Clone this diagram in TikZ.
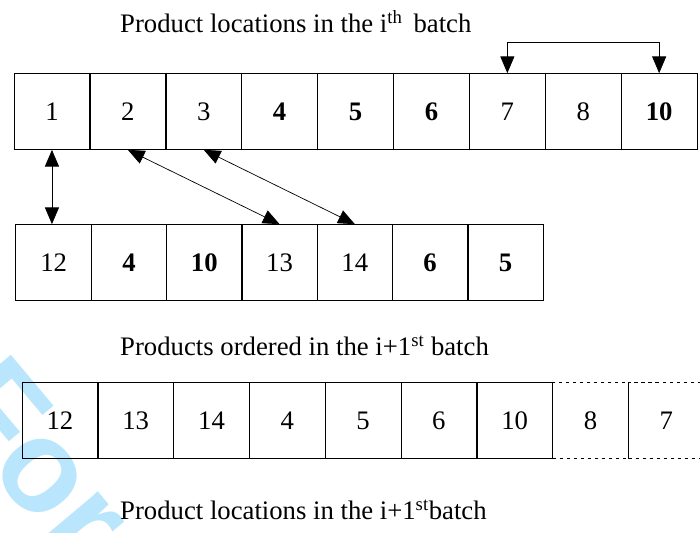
\documentclass[tikz,border=0pt]{standalone}
\usepackage{fontspec}
\setmainfont{Liberation Serif}
\newfontfamily\markfont{Liberation Sans}
\usetikzlibrary{arrows.meta}
\definecolor{markcyan}{RGB}{185,230,252}
\tikzset{
	cell/.style={draw, line width=0.6pt, minimum width=2.27cm, minimum height=2.28cm, inner sep=0pt, font=\fontsize{22.8}{27}\selectfont},
	title/.style={anchor=west, inner sep=0pt, font=\fontsize{22.8}{27}\selectfont},
	link/.style={{Triangle[length=0.5cm,width=0.42cm]}-{Triangle[length=0.5cm,width=0.42cm]}, line width=0.6pt}
}
\begin{document}
\begin{tikzpicture}[x=0.03cm, y=-0.03cm]
	\useasboundingbox (0,0) rectangle (700,533);
	\node[rotate=-50, text=markcyan, font=\markfont\bfseries\fontsize{112}{114}\selectfont, anchor=base west, inner sep=0pt] (mark) at (-64,406) {For};

	\node[title] (titlei) at (120,22) {Product locations in the i\textsuperscript{th}\, batch};
	\foreach \lab [count=\k] in {1,2,3,\textbf{4},\textbf{5},\textbf{6},7,8,\textbf{10}}
		\node[cell] (a\k) at ({14+75.9*(\k-0.5)},111.5) {\lab};

	\foreach \lab [count=\k] in {12,\textbf{4},\textbf{10},13,14,\textbf{6},\textbf{5}}
		\node[cell] (b\k) at ({16+75.3*(\k-0.5)},262.5) {\lab};

	\node[title] (titleo) at (120,346) {Products ordered in the i+1\textsuperscript{st} batch};
	\foreach \lab [count=\k from 8] in {8,7}
		\node[cell, dashed] (c\k) at ({22+75.8*(\k-0.5)},420.5) {\lab};
	\foreach \lab [count=\k] in {12,13,14,4,5,6,10}
		\node[cell] (c\k) at ({22+75.8*(\k-0.5)},420.5) {\lab};

	\node[title] (titlel) at (120,510) {Product locations in the i+1\textsuperscript{st}batch};

	\draw[link] (a7.north) -- ++(0,-31) -| (a9.north);
	\draw[link] (a1.south) -- (a1.south |- b1.north);
	\draw[link] (a2.south) -- (b4.north);
	\draw[link] (a3.south) -- (b5.north);
\end{tikzpicture}
\end{document}
